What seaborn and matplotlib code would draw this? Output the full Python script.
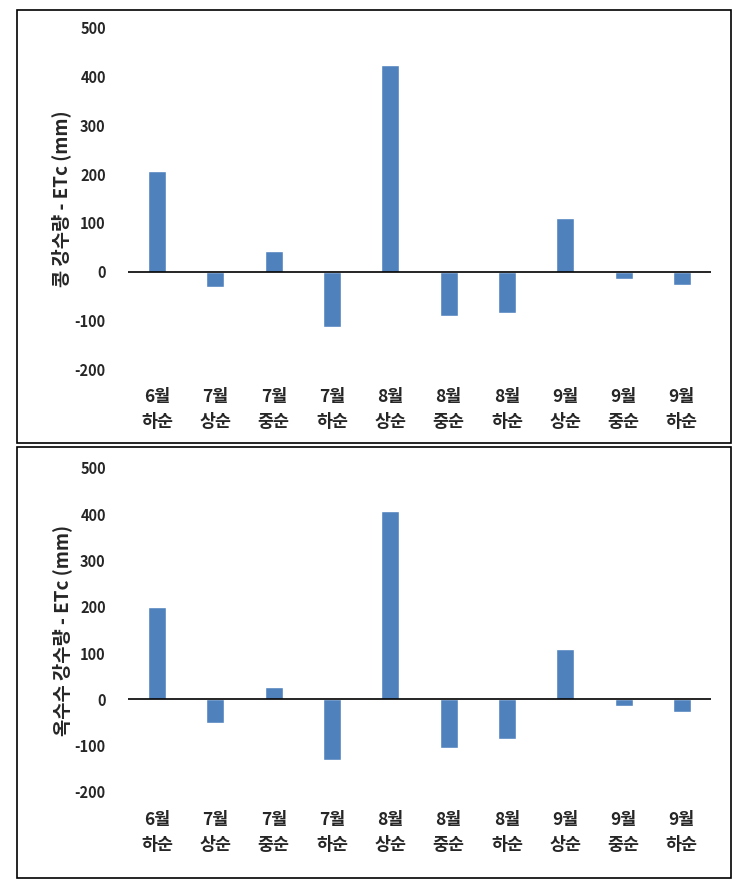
import matplotlib
matplotlib.use("Agg")
import matplotlib.pyplot as plt
import seaborn as sns
import pandas as pd
from matplotlib.patches import Rectangle

sns.set_style("white")
plt.rcParams['font.family'] = ['Noto Sans CJK KR', 'DejaVu Sans']

categories = ["6월\n하순", "7월\n상순", "7월\n중순", "7월\n하순", "8월\n상순",
              "8월\n중순", "8월\n하순", "9월\n상순", "9월\n중순", "9월\n하순"]
soy_values = [207, -32, 43, -113, 424, -92, -86, 109, -16, -27]
corn_values = [200, -50, 26, -131, 407, -106, -86, 110, -15, -28]
yticks = [-200, -100, 0, 100, 200, 300, 400, 500]
ylabel_soy = "콩 강수량 - ETc (mm)"
ylabel_corn = "옥수수 강수량 - ETc (mm)"

W, H = 751, 885
fig = plt.figure(figsize=(W / 100, H / 100), dpi=100)

def fx(px):
    return px / W

def fy(py):
    return 1 - py / H

# panel borders
for (x0, y0, x1, y1) in [(17, 10, 731, 443), (17, 447, 731, 878)]:
    fig.patches.append(Rectangle((fx(x0), fy(y1)), fx(x1) - fx(x0), fy(y0) - fy(y1),
                                 transform=fig.transFigure, fill=False,
                                 edgecolor="black", linewidth=1.2))

panels = [
    (soy_values, ylabel_soy, 28, 369, 61),
    (corn_values, ylabel_corn, 468, 792, 62),
]

for vals, ylab, top, bottom, labx in panels:
    ax = fig.add_axes([fx(128), fy(bottom), fx(711) - fx(128), fy(top) - fy(bottom)])
    df = pd.DataFrame({"cat": categories, "val": vals})
    sns.barplot(data=df, x="cat", y="val", color="#4F81BD", width=0.31,
                saturation=1, ax=ax)
    ax.set_xlim(-0.5, len(categories) - 0.5)
    ax.set_ylim(-200, 500)
    ax.set_yticks(yticks)
    ax.set_yticklabels([str(t) for t in yticks], fontsize=10.5, fontweight="bold")
    ax.set_xticks(range(len(categories)))
    ax.set_xticklabels(categories, fontsize=12.5, fontweight="bold", linespacing=1.45)
    ax.tick_params(axis="y", length=0, pad=16)
    ax.tick_params(axis="x", length=0, pad=14)
    for s in ax.spines.values():
        s.set_visible(False)
    ax.axhline(0, color="black", linewidth=1.2, zorder=3)
    ax.set_xlabel("")
    ax.set_ylabel("")
    fig.text(fx(labx), (fy(top) + fy(bottom)) / 2, ylab, rotation=90,
             ha="center", va="center", fontsize=13.5, fontweight="bold")

fig.savefig("out.png", dpi=100)
